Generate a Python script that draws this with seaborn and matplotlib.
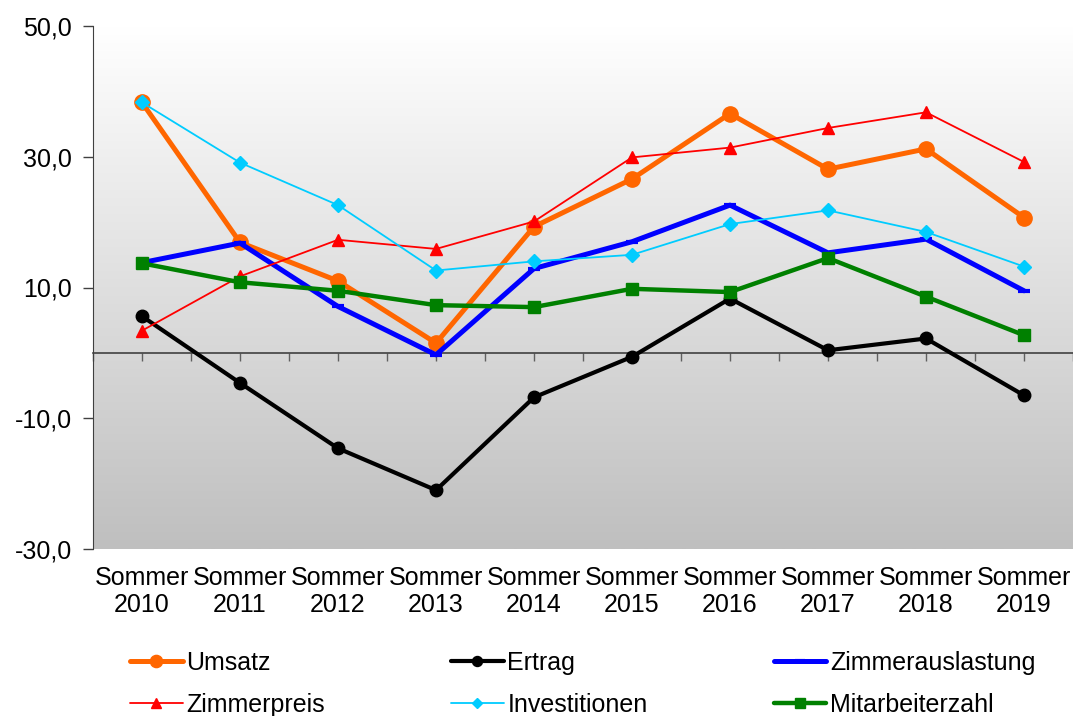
import numpy as np
import pandas as pd
import seaborn as sns
import matplotlib.pyplot as plt
from matplotlib.colors import LinearSegmentedColormap
from matplotlib.ticker import FuncFormatter, MultipleLocator

# --- data ---
years = [2010, 2011, 2012, 2013, 2014, 2015, 2016, 2017, 2018, 2019]
tick_labels = [f"Sommer\n{y}" for y in years]

umsatz = [38.3, 16.9, 11.0, 1.5, 19.3, 26.6, 36.6, 28.1, 31.2, 20.7]
ertrag = [5.6, -4.6, -14.6, -21.0, -6.8, -0.6, 8.3, 0.4, 2.2, -6.5]
zimmerauslastung = [13.8, 16.8, 7.1, -0.3, 12.9, 17.0, 22.6, 15.3, 17.4, 9.5]
zimmerpreis = [3.4, 11.7, 17.3, 15.9, 20.1, 29.9, 31.4, 34.4, 36.8, 29.2]
investitionen = [38.3, 29.1, 22.6, 12.6, 14.0, 15.0, 19.7, 21.8, 18.5, 13.2]
mitarbeiterzahl = [13.7, 10.8, 9.5, 7.3, 7.0, 9.8, 9.3, 14.5, 8.6, 2.7]

y_ticks = [-30, -10, 10, 30, 50]

df = pd.DataFrame({
    "Jahr": years,
    "Umsatz": umsatz,
    "Ertrag": ertrag,
    "Zimmerauslastung": zimmerauslastung,
    "Zimmerpreis": zimmerpreis,
    "Investitionen": investitionen,
    "Mitarbeiterzahl": mitarbeiterzahl,
})

# style per series: colour, line width, marker, marker size
styles = {
    "Umsatz": ("#FF6600", 3.6, "o", 11),
    "Ertrag": ("#000000", 3.0, "o", 9),
    "Zimmerauslastung": ("#0000FF", 3.6, "_", 9),
    "Zimmerpreis": ("#FF0000", 1.3, "^", 9),
    "Investitionen": ("#00CCFF", 1.3, "D", 7),
    "Mitarbeiterzahl": ("#008000", 3.2, "s", 9),
}

sns.set_style("white")
plt.rcParams['font.family'] = ['Liberation Sans', 'DejaVu Sans']
plt.rcParams['text.color'] = 'black'
plt.rcParams['xtick.color'] = 'black'
plt.rcParams['ytick.color'] = 'black'

fig = plt.figure(figsize=(10.73, 7.16), dpi=100)
ax = fig.add_axes([93 / 1073, 1 - 549 / 716, 1 - 93 / 1073, 523 / 716])

# gray gradient background (white at top, gray at bottom)
grad = np.linspace(1, 0, 256).reshape(-1, 1)
ax.imshow(grad, extent=[0, 1, 0, 1], transform=ax.transAxes, aspect='auto',
          cmap=LinearSegmentedColormap.from_list("bg", ["#bfbfbf", "#ffffff"]),
          zorder=0)

handles = {}
for name, (col, lw, mk, ms) in styles.items():
    sns.lineplot(data=df, x="Jahr", y=name, ax=ax, color=col, linewidth=lw,
                 marker=mk, markersize=ms, markeredgecolor=col,
                 markeredgewidth=3 if mk == "_" else 1, label=name,
                 legend=False, zorder=3)
    handles[name] = ax.lines[-1]

ax.set_xlim(years[0] - 0.5, years[-1] + 0.5)
ax.set_ylim(y_ticks[0], y_ticks[-1])
ax.set_yticks(y_ticks)
ax.yaxis.set_major_formatter(FuncFormatter(lambda v, p: f"{v:.1f}".replace(".", ",")))
ax.tick_params(axis='y', left=True, direction='out', length=7, width=1,
               color='#404040', labelsize=18, labelcolor='black', pad=8)

# category axis drawn on the zero line
ax.spines['bottom'].set_position(('data', 0))
ax.spines['bottom'].set_color('#404040')
ax.spines['bottom'].set_linewidth(1.2)
ax.spines['left'].set_color('#404040')
ax.spines['top'].set_visible(False)
ax.spines['right'].set_visible(False)
ax.set_xticks(years)
ax.xaxis.set_minor_locator(MultipleLocator(1, offset=0.5))
ax.tick_params(axis='x', which='both', bottom=True, direction='out', length=6,
               width=1, color='#606060', labelbottom=False)

sec = ax.secondary_xaxis('bottom')
sec.set_xticks(years, labels=tick_labels)
sec.spines['bottom'].set_visible(False)
sec.tick_params(axis='x', length=0, labelsize=18, labelcolor='black', pad=12)
for t in sec.get_xticklabels():
    t.set_linespacing(1.2)

ax.set_xlabel("")
ax.set_ylabel("")

order = ["Umsatz", "Zimmerpreis", "Ertrag", "Investitionen",
         "Zimmerauslastung", "Mitarbeiterzahl"]
fig.legend([handles[n] for n in order], order, ncol=3, frameon=False,
           loc='upper left', bbox_to_anchor=(130 / 1073, 1 - 651 / 716),
           fontsize=18, handlelength=2.1, handletextpad=0.15,
           columnspacing=5.05, labelspacing=0.72, borderpad=0,
           borderaxespad=0, markerscale=0.8, labelcolor='black')

fig.savefig("out.png", dpi=100)
